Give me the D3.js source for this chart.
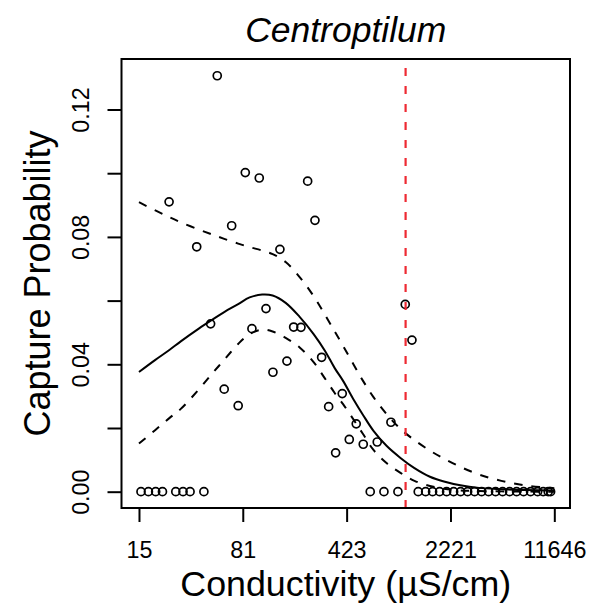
<!DOCTYPE html>
<html>
<head>
<meta charset="utf-8">
<script src="https://cdn.jsdelivr.net/npm/d3@7"></script>
<style>
  html, body { margin: 0; padding: 0; background: #fff; }
  svg text { font-family: "Liberation Sans", Arial, Helvetica, sans-serif; fill: #000; }
</style>
</head>
<body>
<svg id="chart" width="610" height="608"></svg>
<script>
// ---------------- data ----------------
const chartTitle = "Centroptilum";
const xTitle = "Conductivity (µS/cm)";
const yTitle = "Capture Probability";

// x tick positions (conductivity) and their printed labels
const xTickValues = [15.4, 80.7, 423.4, 2220.6, 11646];
const xTickLabels = ["15", "81", "423", "2221", "11646"];
const yTickValues = [0, 0.02, 0.04, 0.06, 0.08, 0.10, 0.12];
const yTickLabels = ["0.00", "", "0.04", "", "0.08", "", "0.12"];

// observed capture probabilities (conductivity, probability)
const obsCond = [
  15.9, 17.9, 20.1, 22.4, 27.7, 31.1, 34.8, 43.4,
  53.7, 24.9, 38.7, 67.6, 84.0, 105.0, 146.0, 227.3, 255.4,
  48.3, 60.0, 75.0, 93.4, 116.9, 130.6, 163.3, 181.8, 204.3,
  284.1, 317.8, 355.2, 394.8, 441.6, 493.5, 552.0, 690.0, 858.7, 1079, 1201,
  617, 768, 960,
  1327, 1494, 1669, 1867, 2088, 2335, 2610, 2919, 3264, 3650, 4081, 4562,
  5102, 5705, 6379, 7133, 7975, 8920, 9753, 10564, 10977
];
const obsProb = [
  0, 0, 0, 0, 0, 0, 0, 0,
  0.1306, 0.0910, 0.0769, 0.0835, 0.1002, 0.0985, 0.0761, 0.0975, 0.0852,
  0.0527, 0.0322, 0.0270, 0.0512, 0.0575, 0.0375, 0.0410, 0.0517, 0.0516,
  0.0422, 0.0267, 0.0122, 0.0308, 0.0164, 0.0213, 0.0149, 0.0156, 0.0218, 0.0588, 0.0476,
  0, 0, 0,
  0, 0, 0, 0, 0, 0, 0, 0, 0, 0, 0, 0,
  0, 0, 0, 0, 0, 0, 0, 0, 0
];

// fitted curve and confidence bounds
const curveCond = [15.4, 20, 25, 30, 40, 50, 60, 75, 90, 110, 130, 160, 200, 250, 300,
  350, 400, 475, 550, 650, 800, 1000, 1250, 1600, 2000, 2600, 3500, 5000, 7500, 11646];
const fitProb = [0.0376, 0.0414, 0.0445, 0.0472, 0.0512, 0.0541, 0.0564, 0.0589, 0.0610, 0.0619,
  0.0616, 0.0593, 0.0549, 0.0495, 0.0442, 0.0388, 0.0348, 0.0288, 0.0241, 0.0191,
  0.0144, 0.0106, 0.0074, 0.0047, 0.0032, 0.0020, 0.0012, 0.0008, 0.0005, 0.0004];
const upperProb = [0.0909, 0.0883, 0.0862, 0.0846, 0.0823, 0.0807, 0.0794, 0.0779, 0.0768, 0.0757,
  0.0746, 0.0721, 0.0674, 0.0614, 0.0555, 0.0503, 0.0458, 0.0398, 0.0348, 0.0297,
  0.0244, 0.0197, 0.0162, 0.0129, 0.0104, 0.0078, 0.0054, 0.0034, 0.0019, 0.0011];
const lowerProb = [0.0151, 0.0194, 0.0231, 0.0260, 0.0321, 0.0373, 0.0414, 0.0464, 0.0495, 0.0509,
  0.0503, 0.0483, 0.0453, 0.0407, 0.0355, 0.0310, 0.0275, 0.0225, 0.0181, 0.0131,
  0.0090, 0.0059, 0.0034, 0.0018, 0.0009, 0.0004, 0.0002, 0.0001, 0.00003, 0.00002];

// threshold line
const thresholdCond = [1085];

// ---------------- drawing ----------------
const svg = d3.select("#chart");
const box = { left: 121.5, right: 570, top: 59, bottom: 508 };

const x = d3.scaleLog().domain([11.65, 14960]).range([box.left, box.right]);
const y = d3.scaleLinear().domain([-0.00512, 0.13586]).range([box.bottom, box.top]);

// title
svg.append("text")
  .attr("x", (box.left + box.right) / 2).attr("y", 42)
  .attr("text-anchor", "middle")
  .style("font-size", "35.5px").style("font-style", "italic")
  .text(chartTitle);

// x axis
const xAxis = d3.axisBottom(x)
  .tickValues(xTickValues)
  .tickFormat((d, i) => xTickLabels[i])
  .tickSizeInner(14).tickSizeOuter(0).tickPadding(10);
const gx = svg.append("g").attr("transform", `translate(0,${box.bottom})`).call(xAxis);
gx.select(".domain").remove();
gx.selectAll(".tick line").attr("stroke", "#000").attr("stroke-width", 2);
gx.selectAll(".tick text").style("font-size", "23.3px").style("font-family", "Liberation Sans, Arial, sans-serif")
  .attr("y", 33).attr("dy", "0.71em");

// y axis
const yAxis = d3.axisLeft(y)
  .tickValues(yTickValues)
  .tickFormat((d, i) => yTickLabels[i])
  .tickSizeInner(14).tickSizeOuter(0);
const gy = svg.append("g").attr("transform", `translate(${box.left},0)`).call(yAxis);
gy.select(".domain").remove();
gy.selectAll(".tick line").attr("stroke", "#000").attr("stroke-width", 2);
gy.selectAll(".tick text")
  .style("font-size", "23.3px").style("font-family", "Liberation Sans, Arial, sans-serif")
  .attr("text-anchor", "middle")
  .attr("x", null).attr("dy", null)
  .attr("transform", "translate(-33,0) rotate(-90)");

// axis titles
svg.append("text")
  .attr("x", (box.left + box.right) / 2).attr("y", 596)
  .attr("text-anchor", "middle").style("font-size", "35.8px")
  .text(xTitle);
svg.append("text")
  .attr("transform", `translate(50,${(box.top + box.bottom) / 2}) rotate(-90)`)
  .attr("text-anchor", "middle").style("font-size", "36px")
  .text(yTitle);

// curves
const line = (arr) => d3.line()
  .x((d, i) => x(curveCond[i]))
  .y((d) => y(d))
  .curve(d3.curveCatmullRom.alpha(0.5))(arr);

svg.append("path").attr("d", line(upperProb))
  .attr("fill", "none").attr("stroke", "#000").attr("stroke-width", 2)
  .attr("stroke-dasharray", "8.5,9");
svg.append("path").attr("d", line(lowerProb))
  .attr("fill", "none").attr("stroke", "#000").attr("stroke-width", 2)
  .attr("stroke-dasharray", "8.5,9");
svg.append("path").attr("d", line(fitProb))
  .attr("fill", "none").attr("stroke", "#000").attr("stroke-width", 2);

// points
svg.append("g").selectAll("circle")
  .data(obsCond)
  .join("circle")
  .attr("cx", (d) => x(d))
  .attr("cy", (d, i) => y(obsProb[i]))
  .attr("r", 4)
  .attr("fill", "none").attr("stroke", "#000").attr("stroke-width", 1.7);

// threshold line
svg.append("g").selectAll("line")
  .data(thresholdCond)
  .join("line")
  .attr("x1", (d) => x(d)).attr("x2", (d) => x(d))
  .attr("y1", box.top + 9).attr("y2", box.bottom)
  .attr("stroke", "#ee2a33").attr("stroke-width", 2.2)
  .attr("stroke-dasharray", "8,10");

// box
svg.append("rect")
  .attr("x", box.left).attr("y", box.top)
  .attr("width", box.right - box.left).attr("height", box.bottom - box.top)
  .attr("fill", "none").attr("stroke", "#000").attr("stroke-width", 2);
</script>
</body>
</html>
